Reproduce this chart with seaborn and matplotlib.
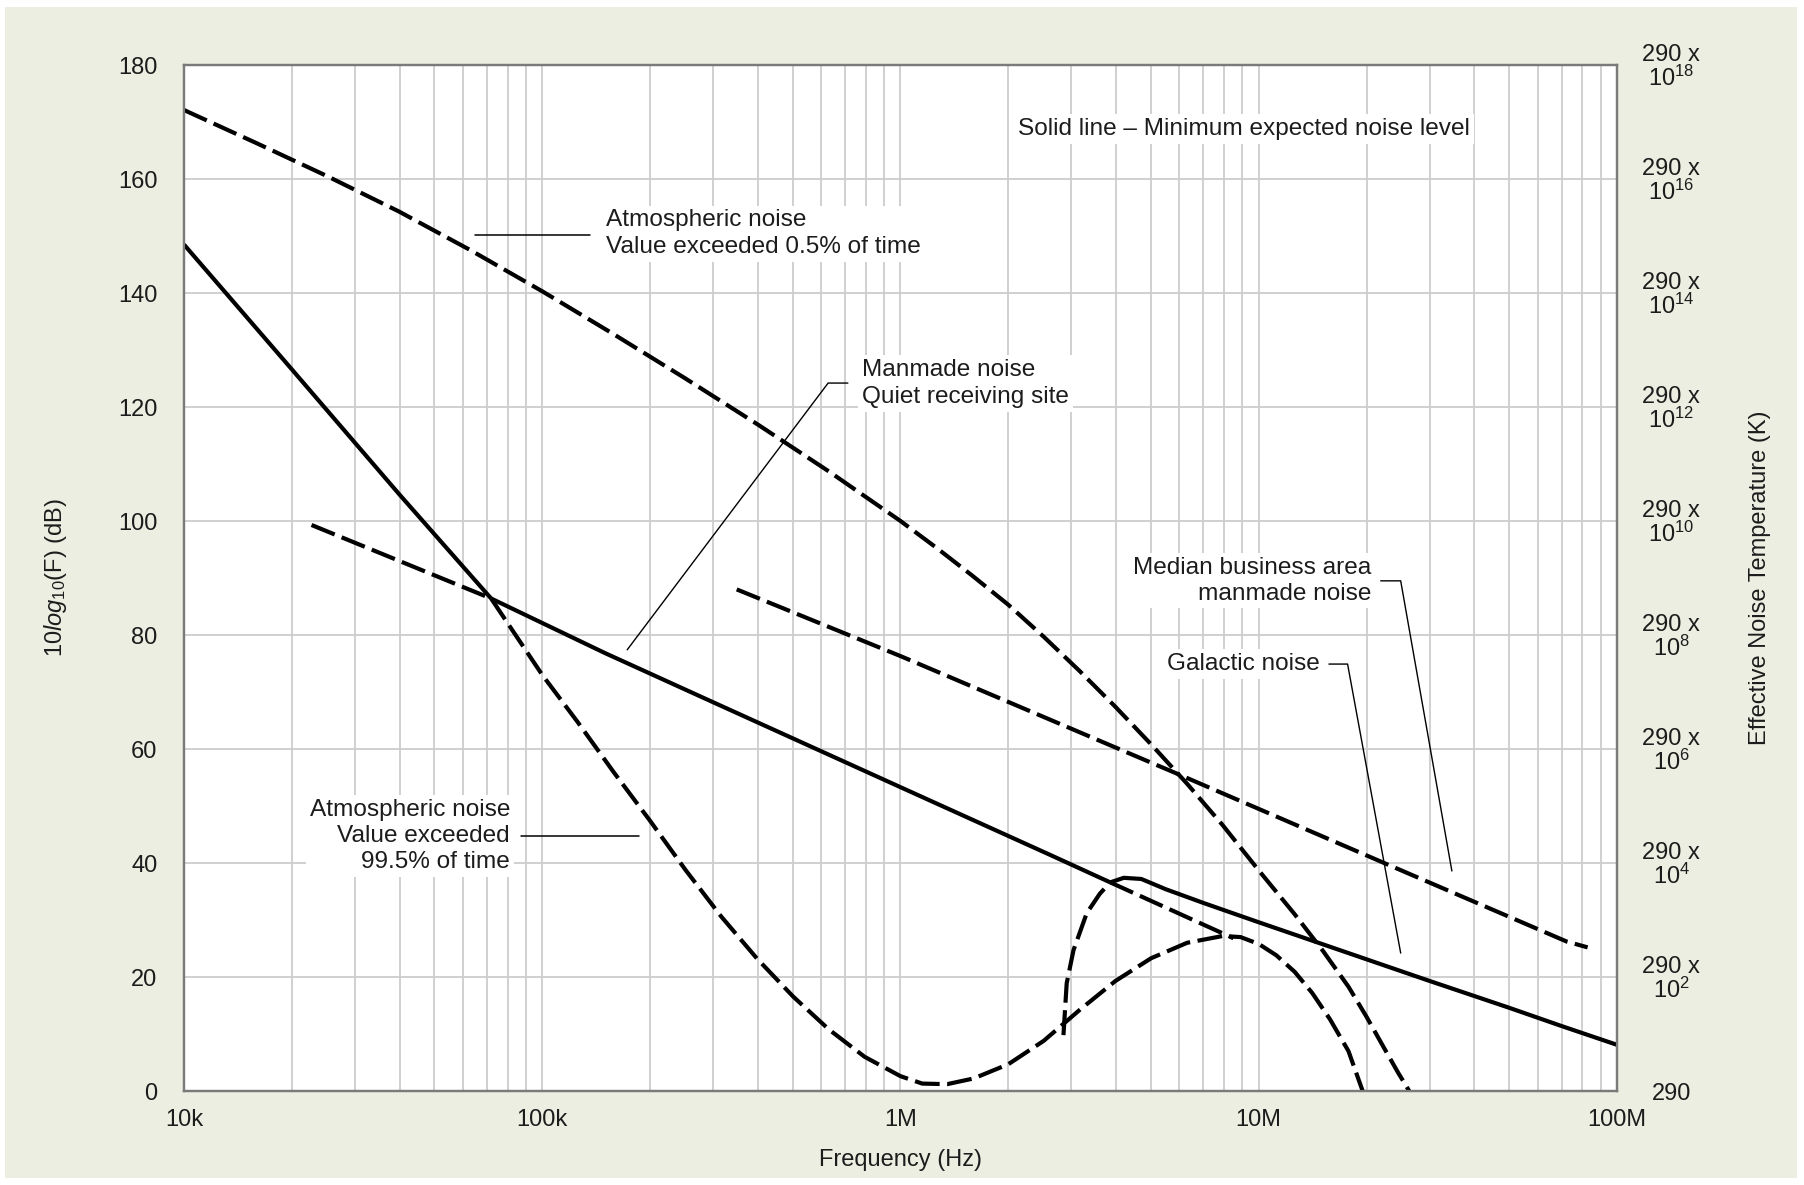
import matplotlib
matplotlib.use("Agg")
import matplotlib.pyplot as plt
from matplotlib.patches import Rectangle
from matplotlib.ticker import LogLocator, NullFormatter, FixedLocator
import pandas as pd
import seaborn as sns

# ---------------- data (frequency in Hz, level in dB) ----------------
atm05_f = [1e4, 1.58e4, 2.51e4, 3.98e4, 6.31e4, 1e5, 1.58e5, 2.51e5, 3.98e5, 6.31e5,
           1e6, 1.26e6, 1.58e6, 2e6, 2.51e6, 3.16e6, 3.98e6, 5.01e6, 6.31e6, 7.94e6,
           1e7, 1.26e7, 1.51e7, 1.78e7, 2e7, 2.24e7, 2.45e7, 2.63e7]
atm05_db = [172.1, 166.4, 160.5, 154.3, 147.5, 140.3, 132.8, 125.0, 117.0, 108.7,
            100.0, 95.3, 90.5, 85.3, 79.7, 73.7, 67.4, 60.8, 53.9, 46.6,
            38.7, 31.0, 24.6, 18.3, 13.0, 7.5, 3.2, 0.0]

atm995_solid_f = [1e4, 2e4, 4e4, 7.2e4]
atm995_solid_db = [148.5, 126.6, 104.6, 86.4]
atm995_dash_f = [7.2e4, 1e5, 1.26e5, 1.58e5, 2e5, 2.51e5, 3.16e5, 3.98e5, 5.01e5, 6.31e5,
                 7.94e5, 1e6, 1.15e6, 1.35e6, 1.6e6, 2e6, 2.51e6, 3.16e6, 3.98e6, 5.01e6,
                 6.31e6, 7.94e6, 8.9e6, 1e7, 1.12e7, 1.26e7, 1.41e7, 1.58e7, 1.78e7, 1.95e7]
atm995_dash_db = [86.4, 73.0, 64.6, 56.0, 47.4, 38.8, 30.6, 23.2, 16.6, 10.8,
                  6.0, 2.6, 1.3, 1.2, 2.2, 4.7, 8.8, 14.2, 19.3, 23.3,
                  26.0, 27.2, 27.0, 25.8, 23.8, 20.9, 17.2, 12.6, 7.0, 0.0]

quiet_dash1_f = [2.27e4, 7.2e4]
quiet_dash1_db = [99.3, 86.4]
quiet_solid_f = [7.2e4, 1.5e5, 3e5, 1e6, 2.6e6, 3.85e6]
quiet_solid_db = [86.4, 76.8, 68.2, 53.3, 41.5, 36.6]
quiet_dash2_f = [3.85e6, 8.5e6]
quiet_dash2_db = [36.6, 26.8]

business_f = [3.49e5, 1e6, 5.9e6, 2.5e7, 7.25e7, 8.28e7]
business_db = [88.0, 76.3, 55.7, 38.7, 26.2, 25.2]

galactic_dash_f = [2.85e6, 2.91e6, 3.04e6, 3.31e6, 3.6e6, 3.85e6]
galactic_dash_db = [9.8, 18.9, 24.7, 31.2, 34.6, 36.6]
galactic_solid_f = [3.85e6, 4.2e6, 4.7e6, 5.5e6, 7e6, 1e7, 1.5e7, 2e7, 3e7, 5e7, 7e7, 1e8]
galactic_solid_db = [36.6, 37.4, 37.2, 35.4, 33.0, 29.6, 25.8, 23.1, 19.3, 14.6, 11.4, 8.1]

x_ticks = [1e4, 1e5, 1e6, 1e7, 1e8]
x_tick_labels = ["10k", "100k", "1M", "10M", "100M"]
y_ticks = [0, 20, 40, 60, 80, 100, 120, 140, 160, 180]
temp_exponents = [None, 2, 4, 6, 8, 10, 12, 14, 16, 18]

# ---------------- style ----------------
sns.set_theme(style="white")
plt.rcParams["font.family"] = ["Liberation Sans", "DejaVu Sans"]
plt.rcParams["mathtext.fontset"] = "custom"
plt.rcParams["mathtext.rm"] = "Liberation Sans"
plt.rcParams["mathtext.it"] = "Liberation Sans:italic"
plt.rcParams["mathtext.bf"] = "Liberation Sans:bold"

BG = "#ebeee0"
TXT = "#1c1c1c"
GRID = "#cdcdcd"
SPINE = "#7a7a7a"
FS = 17
FS_ANN = 17.6

W, H = 1804, 1185
fig = plt.figure(figsize=(W / 100, H / 100), dpi=100)
fig.patch.set_facecolor("white")
fig.add_artist(Rectangle((5 / W, 7 / H), (W - 12) / W, (H - 14) / H,
                         transform=fig.transFigure, facecolor=BG,
                         edgecolor="none", zorder=-5))

ax = fig.add_axes([184 / W, 1 - 1091 / H, 1433 / W, 1026 / H])
ax.set_facecolor("white")
ax.set_xscale("log")
ax.set_xlim(1e4, 1e8)
ax.set_ylim(0, 180)

LW = 3.0
DASH = (6, 1.8)


def draw(xs, ys, dashed):
    df = pd.DataFrame({"f": xs, "db": ys})
    sns.lineplot(data=df, x="f", y="db", ax=ax, color="black", linewidth=LW,
                 estimator=None, sort=False, zorder=5)
    ln = ax.lines[-1]
    ln.set_solid_capstyle("butt")
    ln.set_solid_joinstyle("round")
    if dashed:
        ln.set_dashes(DASH)
        ln.set_dash_capstyle("butt")
        ln.set_dash_joinstyle("round")


draw(atm05_f, atm05_db, True)
draw(atm995_dash_f, atm995_dash_db, True)
draw(atm995_solid_f, atm995_solid_db, False)
draw(quiet_dash1_f, quiet_dash1_db, True)
draw(quiet_solid_f, quiet_solid_db, False)
draw(quiet_dash2_f, quiet_dash2_db, True)
draw(business_f, business_db, True)
draw(galactic_dash_f, galactic_dash_db, True)
draw(galactic_solid_f, galactic_solid_db, False)

# grid
ax.xaxis.set_major_locator(FixedLocator(x_ticks))
ax.xaxis.set_minor_locator(LogLocator(base=10, subs=[2, 3, 4, 5, 6, 7, 8, 9], numticks=20))
ax.xaxis.set_minor_formatter(NullFormatter())
ax.set_xticks(x_ticks)
ax.set_xticklabels(x_tick_labels)
ax.set_yticks(y_ticks)
ax.grid(True, which="both", axis="x", color=GRID, linewidth=1.3)
ax.grid(True, which="major", axis="y", color=GRID, linewidth=1.3)
ax.set_axisbelow(True)
ax.tick_params(axis="both", which="both", length=0, labelsize=FS, colors=TXT)
ax.tick_params(axis="y", pad=19)
ax.tick_params(axis="x", pad=13)
for s in ax.spines.values():
    s.set_color(SPINE)
    s.set_linewidth(1.6)
    s.set_visible(True)

ax.set_xlabel("Frequency (Hz)", fontsize=FS, color=TXT)
ax.xaxis.set_label_coords(0.5, -0.067)
ax.xaxis.label.set_va("center")
ax.set_ylabel(r"10$\mathit{log}_{\mathit{10}}$(F) (dB)", fontsize=FS, color=TXT)
ax.yaxis.label.set_va("center")
ax.yaxis.set_label_coords(-0.090, 0.5)

# right axis
ax2 = ax.twinx()
ax2.set_ylim(0, 180)
ax2.set_yticks(y_ticks)
right_labels = ["290" if e is None else "290 x\n$10^{%d}$" % e for e in temp_exponents]
ax2.set_yticklabels(right_labels)
ax2.tick_params(axis="y", length=0, labelsize=FS, colors=TXT, pad=39)
for lab in ax2.get_yticklabels():
    lab.set_horizontalalignment("center")
    lab.set_multialignment("center")
    lab.set_linespacing(1.0)
ax2.grid(False)
for s in ax2.spines.values():
    s.set_color(SPINE)
    s.set_linewidth(1.6)
ax2.set_ylabel("Effective Noise Temperature (K)", fontsize=FS, color=TXT)
ax2.yaxis.label.set_va("center")
ax2.yaxis.set_label_coords(1.0998, 0.5)

# annotations
box = dict(boxstyle="square,pad=0.15", facecolor="white", edgecolor="none")
tk = dict(fontsize=FS_ANN, color=TXT, zorder=4, linespacing=1.3)

ax.text(9.12e6, 168.8, "Solid line \u2013 Minimum expected noise level",
        ha="center", va="center", bbox=box, **tk)

ax.text(1.507e5, 150.4, "Atmospheric noise\nValue exceeded 0.5% of time",
        ha="left", va="center", multialignment="left", bbox=box, **tk)
ax.plot([6.49e4, 1.36e5], [150.2, 150.2], color="black", lw=1.1, zorder=4)

ax.text(7.81e5, 124.1, "Manmade noise\nQuiet receiving site",
        ha="left", va="center", multialignment="left", bbox=box, **tk)
ax.plot([7.13e5, 6.28e5, 1.726e5], [124.2, 124.2, 77.4], color="black", lw=1.0, zorder=4)

ax.text(2.06e7, 89.5, "Median business area\nmanmade noise",
        ha="right", va="center", multialignment="right", bbox=box,
        **dict(tk, linespacing=1.22))
ax.plot([2.19e7, 2.49e7, 3.46e7], [89.5, 89.5, 38.6], color="black", lw=1.0, zorder=4)

ax.text(1.48e7, 74.9, "Galactic noise",
        ha="right", va="center", bbox=box, **tk)
ax.plot([1.57e7, 1.77e7, 2.49e7], [74.9, 74.9, 24.2], color="black", lw=1.0, zorder=4)

ax.text(8.13e4, 44.7, "Atmospheric noise\nValue exceeded\n99.5% of time",
        ha="right", va="center", multialignment="right", bbox=box,
        **dict(tk, linespacing=1.25))
ax.plot([8.73e4, 1.86e5], [44.7, 44.7], color="black", lw=1.1, zorder=4)

fig.savefig("out.png", dpi=100, facecolor=fig.get_facecolor())
